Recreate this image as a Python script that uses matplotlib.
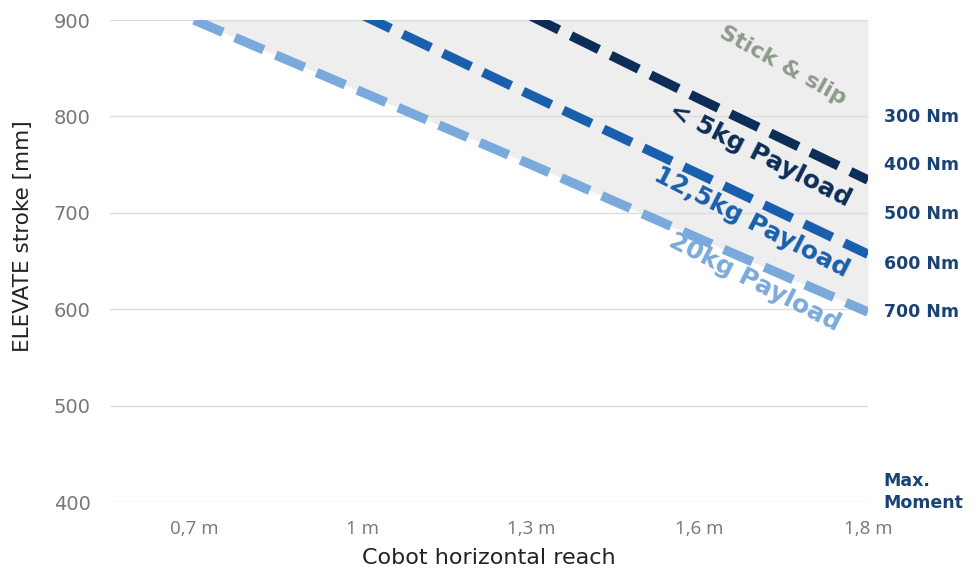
import numpy as np
import matplotlib.pyplot as plt

reach = ["0,7 m", "1 m", "1,3 m", "1,6 m", "1,8 m"]
payload_20 = [900, 825, 750, 673, 597]
payload_12 = [np.nan, 905, 822, 740, 657]
payload_5 = [np.nan, np.nan, 904, 818, 734]
moments = ["300 Nm", "400 Nm", "500 Nm", "600 Nm", "700 Nm"]

c_light = "#7aaadb"
c_mid = "#1a5fad"
c_dark = "#0c2d57"
c_txt = "#1b4275"

plt.rcParams["font.family"] = ["DejaVu Sans"]

fig = plt.figure(figsize=(9.76, 5.74), dpi=100)
ax = fig.add_axes([110 / 976, 1 - 502 / 574, 758 / 976, 482 / 574])

x = np.arange(len(reach))
ax.fill_between(x, payload_20, 900, color="#eeeeee", zorder=1, lw=0)

for y, col in [(payload_20, c_light), (payload_12, c_mid), (payload_5, c_dark)]:
    ax.plot(x, y, color=col, lw=6.8, dashes=(3.3, 1.4), solid_capstyle="butt", zorder=3)

ax.set_xlim(-0.5, 4)
ax.set_ylim(400, 900)
ax.set_yticks([400, 500, 600, 700, 800, 900])
ax.set_xticks(x)
ax.set_xticklabels(reach, family="Open Sans", fontsize=13.5)
ax.grid(axis="y", color="#dddddd", lw=1, zorder=0)
ax.tick_params(length=0, colors="#777777")
ax.tick_params(axis="y", pad=14, labelsize=14)
ax.tick_params(axis="x", pad=13)
for s in ax.spines.values():
    s.set_visible(False)

ax.set_ylabel("ELEVATE stroke [mm]", fontsize=15.5, color="#222222")
ax.yaxis.set_label_coords(-0.102, 0.552)
ax.set_xlabel("Cobot horizontal reach", fontsize=16, color="#222222", labelpad=7)

labels = [
    ("Stick & slip", 783, 66, -29, 16, "#8c9b8a"),
    ("< 5kg Payload", 760, 155, -27, 18, c_dark),
    ("12,5kg Payload", 752, 222, -27, 18, c_mid),
    ("20kg Payload", 755, 282, -27, 18, c_light),
]
for txt, px, py, rot, fs, col in labels:
    fig.text(px / 976, 1 - py / 574, txt, rotation=rot, ha="center", va="center",
             fontsize=fs, fontweight="bold", color=col, zorder=4)

for lab, py in zip(moments, [117, 165, 214, 264, 312]):
    fig.text(884 / 976, 1 - py / 574, lab, ha="left", va="center",
             fontsize=12.5, fontweight="bold", color=c_txt)
fig.text(883 / 976, 1 - 481 / 574, "Max.", ha="left", va="center",
         fontsize=12.5, fontweight="bold", color=c_txt)
fig.text(883 / 976, 1 - 503 / 574, "Moment", ha="left", va="center",
         fontsize=12.5, fontweight="bold", color=c_txt)

fig.savefig("out.png", dpi=100)
